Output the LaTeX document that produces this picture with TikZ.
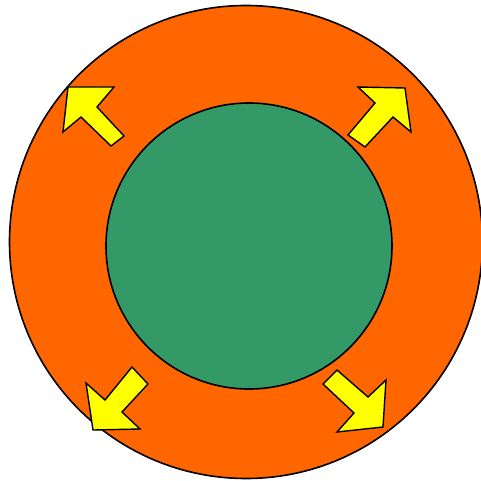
\documentclass[tikz,border=0pt]{standalone}
\usepackage{xcolor}
\usetikzlibrary{positioning}
\definecolor{ringorange}{HTML}{FF6600}
\definecolor{coregreen}{HTML}{339966}
\definecolor{arrowyellow}{HTML}{FFFF00}
\begin{document}
\begin{tikzpicture}[
    x=1pt, y=-1pt,
    ring/.style={circle, draw=black, line width=1.6pt, inner sep=0pt,
                 fill=ringorange, minimum size=473pt},
    core/.style={circle, draw=black, line width=1.6pt, inner sep=0pt,
                 fill=coregreen, minimum size=286pt},
    blockarrow/.style={draw=black, line width=1.4pt, fill=arrowyellow,
                       line join=miter},
]
\useasboundingbox (0,0) rectangle (481,481);
\clip (0,0) rectangle (481,481);
\node[ring] (outer) at (246,242) {};
\node[core] (inner) at (249,246) {};
% top left
\draw[blockarrow] (68,87) -- (114,87) -- (97,107) -- (124,136)
    -- (111,146) -- (81,117) -- (63,132) -- cycle;
% top right
\draw[blockarrow] (358,87) -- (405,88) -- (411,132) -- (393,117)
    -- (365,147) -- (348,135) -- (375,103) -- cycle;
% bottom left
\draw[blockarrow] (132,367) -- (148,384) -- (122,412) -- (140,429)
    -- (93,430) -- (86,383) -- (105,400) -- cycle;
% bottom right
\draw[blockarrow] (337,370) -- (323,384) -- (354,413) -- (337,432)
    -- (383,427) -- (386,380) -- (368,397) -- cycle;
\end{tikzpicture}
\end{document}
